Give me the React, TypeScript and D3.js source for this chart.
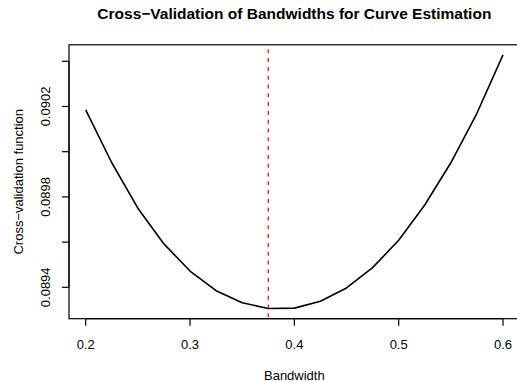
import React from "react";
import * as d3 from "d3";

// Cross-validation score for each candidate bandwidth
const bandwidths = [0.2, 0.225, 0.25, 0.275, 0.3, 0.325, 0.35, 0.375, 0.4, 0.425, 0.45, 0.475, 0.5, 0.525, 0.55, 0.575, 0.6];
const cvValues = [0.090185, 0.089951, 0.08975, 0.089592, 0.089472, 0.089385, 0.089332, 0.089306, 0.089308, 0.089338, 0.089397, 0.089487, 0.089608, 0.089764, 0.089951, 0.09017, 0.090428];
const bestBandwidth = 0.375;

const xTicks = [0.2, 0.3, 0.4, 0.5, 0.6];
const xTickLabels = ["0.2", "0.3", "0.4", "0.5", "0.6"];
const yTicks = [0.0894, 0.0896, 0.0898, 0.09, 0.0902, 0.0904];
const yTickLabels = ["0.0894", "", "0.0898", "", "0.0902", ""];

const titleText = "Cross\u2212Validation of Bandwidths for Curve Estimation";
const xLabel = "Bandwidth";
const yLabel = "Cross\u2212validation function";

const W = 517;
const H = 382;
const plot = { left: 69, right: 519.7, top: 44.8, bottom: 318.7 };
const font = "'Liberation Sans', Arial, Helvetica, sans-serif";

// R-style axis range: data extent padded by 4% on each side
function padded(values: number[]): [number, number] {
  const [lo, hi] = d3.extent(values) as [number, number];
  const p = (hi - lo) * 0.04;
  return [lo - p, hi + p];
}

export default function App() {
  const x = d3.scaleLinear().domain(padded(bandwidths)).range([plot.left, plot.right]);
  const y = d3.scaleLinear().domain(padded(cvValues)).range([plot.bottom, plot.top]);

  const line = d3
    .line<number>()
    .x((_, i) => x(bandwidths[i]))
    .y((v) => y(v));

  const tick = 7;

  return (
    <svg
      width={W}
      height={H}
      style={{ position: "absolute", left: 0, top: 0, background: "#fff" }}
      fontFamily={font}
    >
      <rect x={0} y={0} width={W} height={H} fill="#fff" />
      <text x={(plot.left + plot.right) / 2} y={18.5} textAnchor="middle" fontWeight="bold" fontSize={15.5}>
        {titleText}
      </text>

      <path d={line(cvValues) || ""} fill="none" stroke="#000" strokeWidth={1.6} strokeLinejoin="round" />

      <line
        x1={x(bestBandwidth)}
        x2={x(bestBandwidth)}
        y1={plot.top}
        y2={plot.bottom}
        stroke="#ff0000"
        strokeWidth={1.2}
        strokeDasharray="4,4.8"
        strokeDashoffset={-4.5}
      />

      {/* plot box */}
      <rect
        x={plot.left}
        y={plot.top}
        width={plot.right - plot.left}
        height={plot.bottom - plot.top}
        fill="none"
        stroke="#000"
        strokeWidth={1.2}
      />

      {/* x axis */}
      <line x1={x(xTicks[0])} x2={x(xTicks[xTicks.length - 1])} y1={plot.bottom} y2={plot.bottom} stroke="#000" strokeWidth={1.2} />
      {xTicks.map((t, i) => (
        <g key={"xt" + i}>
          <line x1={x(t)} x2={x(t)} y1={plot.bottom} y2={plot.bottom + tick} stroke="#000" strokeWidth={1.2} />
          <text x={x(t)} y={348.5} textAnchor="middle" fontSize={13}>
            {xTickLabels[i]}
          </text>
        </g>
      ))}

      {/* y axis */}
      <line x1={plot.left} x2={plot.left} y1={y(yTicks[0])} y2={y(yTicks[yTicks.length - 1])} stroke="#000" strokeWidth={1.2} />
      {yTicks.map((t, i) => (
        <g key={"yt" + i}>
          <line x1={plot.left - tick} x2={plot.left} y1={y(t)} y2={y(t)} stroke="#000" strokeWidth={1.2} />
          {yTickLabels[i] && (
            <text
              transform={`translate(50,${y(t)}) rotate(-90)`}
              textAnchor="middle"
              fontSize={13}
            >
              {yTickLabels[i]}
            </text>
          )}
        </g>
      ))}

      <text x={(plot.left + plot.right) / 2} y={379.5} textAnchor="middle" fontSize={13}>
        {xLabel}
      </text>
      <text
        transform={`translate(22.5,${(plot.top + plot.bottom) / 2}) rotate(-90)`}
        textAnchor="middle"
        fontSize={13}
      >
        {yLabel}
      </text>
    </svg>
  );
}
